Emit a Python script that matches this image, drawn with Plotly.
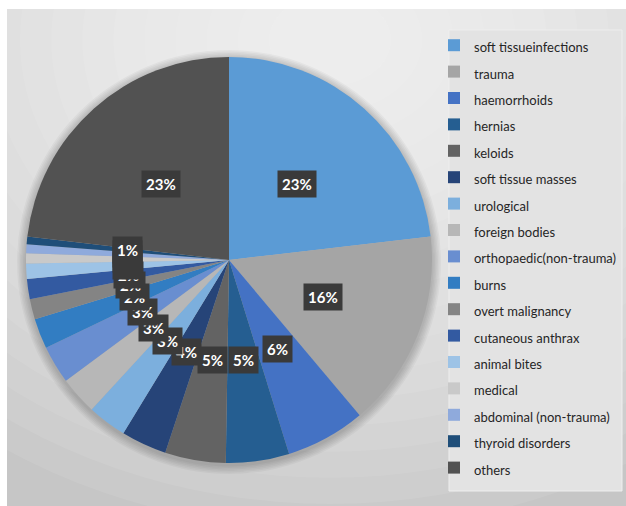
import math
import plotly.graph_objects as go

categories = ["soft tissueinfections", "trauma", "haemorrhoids", "hernias", "keloids",
              "soft tissue masses", "urological", "foreign bodies", "orthopaedic(non-trauma)",
              "burns", "overt malignancy", "cutaneous anthrax", "animal bites", "medical",
              "abdominal (non-trauma)", "thyroid disorders", "others"]
values = [23.0, 15.6, 6.3, 5.0, 4.8, 3.6, 3.1, 3.0, 3.0, 2.4, 1.6, 1.6, 1.2, 0.8, 0.7, 0.6, 23.0]
colors = ["#5B9BD5", "#A5A5A5", "#4472C4", "#255E91", "#636363", "#264478", "#7CAFDD",
          "#B7B7B7", "#698ED0", "#327DC2", "#848484", "#335AA1", "#9DC3E6", "#C9C9C9",
          "#8FAADC", "#1F4E79", "#525252"]

W, H = 626, 506
CX, CY, R = 229, 260, 203
FONT = "Lato"


def px(x):
    return x / W


def py(y):
    return 1 - y / H


shapes = []
# panel background with soft radial light
shapes.append(dict(type="rect", xref="paper", yref="paper", x0=px(7), x1=px(626), y0=py(506), y1=py(9),
                   fillcolor="#c6c6c6", line=dict(width=0), layer="below"))
n = 18
for i in range(n):
    f = 1 - i / n
    rx, ry = 560 * f + 30, 470 * f + 20
    ex, ey = 330, 40
    shapes.append(dict(type="circle", xref="paper", yref="paper",
                       x0=px(ex - rx), x1=px(ex + rx),
                       y0=py(ey + ry), y1=py(ey - ry),
                       fillcolor="rgba(255,255,255,0.08)", line=dict(width=0), layer="below"))
# mask outside the panel (white frame)
shapes.append(dict(type="rect", xref="paper", yref="paper", x0=0, x1=px(7), y0=0, y1=1,
                   fillcolor="white", line=dict(width=0), layer="below"))
shapes.append(dict(type="rect", xref="paper", yref="paper", x0=0, x1=1, y0=py(9), y1=1,
                   fillcolor="white", line=dict(width=0), layer="below"))
# soft shadow around pie
for k in range(6):
    rr = R + 9 - k * 1.5
    shapes.append(dict(type="circle", xref="paper", yref="paper",
                       x0=px(CX - rr), x1=px(CX + rr), y0=py(CY + rr + 2), y1=py(CY - rr + 2),
                       fillcolor="rgba(0,0,0,0.035)", line=dict(width=0), layer="below"))
# legend box
shapes.append(dict(type="rect", xref="paper", yref="paper", x0=px(449), x1=px(622), y0=py(491), y1=py(30),
                   fillcolor="#e3e3e3", line=dict(color="#eeeeee", width=1), layer="below"))

fig = go.Figure(go.Pie(
    labels=[f"<span style='font-size:13px'>{c}</span>" for c in categories],
    values=values,
    marker=dict(colors=colors, line=dict(width=0)),
    sort=False, direction="clockwise", rotation=0,
    textinfo="none", hoverinfo="label+percent",
    domain=dict(x=[px(CX - R), px(CX + R)], y=[py(CY + R), py(CY - R)]),
))

total = sum(values)
annotations = []
cum = 0.0
for v in values:
    th = 2 * math.pi * (cum + v / 2) / total
    cum += v
    x = CX + 0.5 * R * math.sin(th)
    y = CY - 0.5 * R * math.cos(th)
    annotations.append(dict(x=px(x), y=py(y), xref="paper", yref="paper", showarrow=False,
                            text=f"<b>{round(100 * v / total)}%</b>",
                            font=dict(family=FONT, size=15, color="white"),
                            bgcolor="#3a3a3a", borderpad=4, xanchor="center", yanchor="middle"))

fig.update_layout(
    width=W, height=H,
    margin=dict(l=0, r=0, t=0, b=0),
    paper_bgcolor="white",
    shapes=shapes,
    annotations=annotations,
    showlegend=True,
    legend=dict(x=px(434), y=py(27), xanchor="left", yanchor="top",
                bgcolor="rgba(0,0,0,0)", font=dict(family=FONT, size=18, color="#262626"),
                traceorder="normal"),
    font=dict(family=FONT),
)

fig.write_html("out.html")
